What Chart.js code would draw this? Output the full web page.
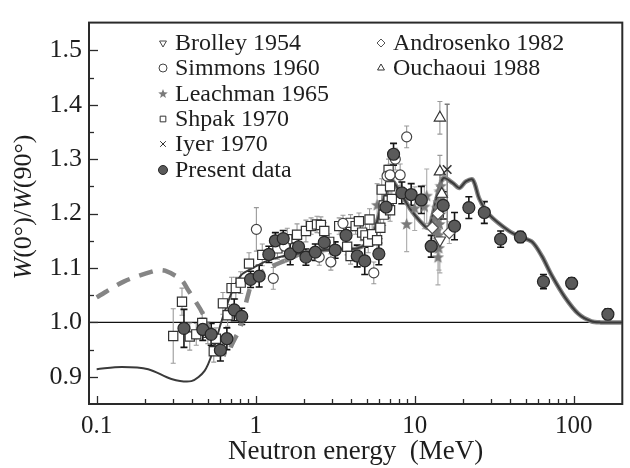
<!DOCTYPE html>
<html>
<head>
<meta charset="utf-8">
<script src="https://cdn.jsdelivr.net/npm/chart.js@4/dist/chart.umd.min.js"></script>
<style>
    html, body { margin: 0; padding: 0; background: #fff; }
    #wrap { width: 630px; height: 468px; }
</style>
</head>
<body>
<div id="wrap"><canvas id="chart" width="630" height="468"></canvas></div>
<script>
// ---- data (energy in MeV, ratio W(0)/W(90)) ----
const presentE   = [0.354, 0.465, 0.525, 0.600, 0.659, 0.733, 0.817, 0.929, 1.052, 1.21, 1.33, 1.49, 1.65, 1.86, 2.07, 2.37, 2.70, 3.16, 3.70, 4.35, 4.85, 5.95, 6.6, 7.36, 8.3, 9.5, 11.0, 12.7, 15.1, 17.8, 21.9, 27.4, 34.7, 46.2, 64.5, 97, 164];
const presentW   = [0.989, 0.987, 0.978, 0.949, 0.970, 1.023, 1.011, 1.079, 1.085, 1.125, 1.150, 1.154, 1.126, 1.139, 1.120, 1.129, 1.147, 1.133, 1.160, 1.122, 1.113, 1.126, 1.212, 1.309, 1.238, 1.235, 1.225, 1.140, 1.215, 1.177, 1.211, 1.202, 1.153, 1.157, 1.075, 1.072, 1.015];
const presentErr = [0.035, 0.02, 0.02, 0.02, 0.02, 0.02, 0.015, 0.015, 0.02, 0.015, 0.015, 0.015, 0.02, 0.015, 0.015, 0.015, 0.015, 0.015, 0.015, 0.02, 0.025, 0.02, 0.02, 0.02, 0.02, 0.02, 0.025, 0.02, 0.025, 0.025, 0.02, 0.02, 0.015, 0.01, 0.013, 0.01, 0.01];

const shpakE   = [0.303, 0.344, 0.385, 0.423, 0.461, 0.500, 0.545, 0.562, 0.622, 0.666, 0.705, 0.750, 0.805, 0.908, 1.10, 1.37, 1.58, 1.82, 2.07, 2.23, 2.43, 2.57, 2.70, 2.90, 3.35, 3.76, 3.95, 3.95, 4.25, 4.46, 4.67, 4.9, 5.1, 5.2, 5.4, 5.8, 6.08, 6.2, 6.38, 6.38, 6.85, 6.85, 7.0, 7.0, 7.18];
const shpakW   = [0.975, 1.038, 0.974, 0.978, 0.999, 0.981, 0.947, 0.970, 1.035, 1.013, 1.063, 1.063, 1.073, 1.108, 1.124, 1.136, 1.153, 1.161, 1.168, 1.177, 1.180, 1.179, 1.168, 1.148, 1.177, 1.139, 1.183, 1.122, 1.177, 1.186, 1.165, 1.160, 1.148, 1.189, 1.162, 1.151, 1.174, 1.244, 1.215, 1.198, 1.224, 1.280, 1.250, 1.206, 1.227];
const shpakErr = [0.05, 0.025, 0.025, 0.02, 0.02, 0.02, 0.02, 0.02, 0.02, 0.02, 0.02, 0.02, 0.02, 0.02, 0.02, 0.02, 0.02, 0.02, 0.02, 0.015, 0.015, 0.015, 0.015, 0.015, 0.015, 0.015, 0.015, 0.015, 0.015, 0.015, 0.015, 0.02, 0.02, 0.02, 0.02, 0.02, 0.02, 0.02, 0.02, 0.02, 0.02, 0.02, 0.02, 0.02, 0.02];

const simmonsE   = [1.01, 1.29, 1.52, 2.51, 2.97, 3.54, 5.53, 6.7, 7.0, 7.55, 8.1, 8.9];
const simmonsW   = [1.171, 1.081, 1.140, 1.120, 1.111, 1.182, 1.091, 1.269, 1.271, 1.300, 1.271, 1.341];
const simmonsErr = [0.04, 0.02, 0.02, 0.015, 0.015, 0.015, 0.02, 0.02, 0.02, 0.02, 0.02, 0.02];

const leachmanE   = [5.8, 8.9, 10.0, 11.5, 11.9, 13.3, 13.5, 13.7, 13.8, 13.9, 14.0, 14.1, 14.1, 14.2, 14.3, 14.4, 14.5, 14.6, 14.7, 14.9];
const leachmanW   = [1.215, 1.180, 1.209, 1.212, 1.232, 1.170, 1.190, 1.168, 1.210, 1.200, 1.119, 1.220, 1.160, 1.136, 1.180, 1.240, 1.198, 1.250, 1.221, 1.230];
const leachmanErr = [0.04, 0.05, 0.04, 0.04, 0.05, 0.04, 0.03, 0.04, 0.03, 0.03, 0.05, 0.03, 0.04, 0.04, 0.03, 0.04, 0.04, 0.03, 0.04, 0.03];

const iyerE = [16.0], iyerW = [1.281], iyerErr = [0.12];
const ouchaouiE = [14.4, 14.4, 14.8], ouchaouiW = [1.376, 1.277, 1.236], ouchaouiErr = [0.03, 0.03, 0.03];
const brolleyE = [14.4], brolleyW = [1.151], brolleyErr = [0.06];
const androsenkoE = [12.9, 14.0, 16.5], androsenkoW = [1.174, 1.200, 1.165], androsenkoErr = [0.02, 0.02, 0.02];

// calculation curves
const thinE = [0.1, 0.144, 0.211, 0.295, 0.394, 0.477, 0.537, 0.605, 0.698, 0.805, 0.975, 1.18, 1.5, 2.0, 2.7, 3.5, 4.35, 5.26, 5.8, 6.38, 7.0, 7.18, 8.1, 9.35, 10.8, 12.2, 13.7, 15.1, 17.4, 19.1, 21, 23.2, 25.5, 29.4, 39.2, 46.3, 54.7, 63, 72.8, 88.1, 106.7, 129, 148, 200];
const thinW = [0.914, 0.918, 0.914, 0.896, 0.892, 0.911, 0.946, 0.999, 1.051, 1.086, 1.101, 1.113, 1.122, 1.128, 1.133, 1.135, 1.136, 1.151, 1.186, 1.227, 1.256, 1.262, 1.239, 1.209, 1.186, 1.174, 1.227, 1.265, 1.256, 1.247, 1.259, 1.262, 1.227, 1.198, 1.168, 1.157, 1.148, 1.122, 1.086, 1.046, 1.016, 1.002, 1.0, 1.0];
const thickE = [0.1, 0.148, 0.233, 0.269, 0.341, 0.375, 0.465, 0.55, 0.605, 0.676, 0.698, 0.805, 0.887, 0.977, 1.2, 1.52, 2.0, 2.7, 3.5, 4.35, 5.26, 5.8, 6.38, 7.0, 7.18, 8.1, 9.35, 10.8, 12.2, 13.7, 15.1, 17.4, 19.1, 21, 23.2, 25.5, 29.4, 39.2, 46.3, 54.7, 63, 72.8, 88.1, 106.7, 129, 148, 200];
const thickW = [1.046, 1.075, 1.095, 1.095, 1.078, 1.06, 1.016, 0.964, 0.946, 0.94, 0.955, 0.993, 1.046, 1.08, 1.10, 1.113, 1.128, 1.133, 1.135, 1.136, 1.151, 1.186, 1.227, 1.256, 1.262, 1.239, 1.209, 1.186, 1.174, 1.227, 1.265, 1.256, 1.247, 1.259, 1.262, 1.227, 1.198, 1.168, 1.157, 1.148, 1.122, 1.086, 1.046, 1.016, 1.002, 1.0, 1.0];
const dashedUpTo = 1.52;

// axes
const xDecades = [0.1, 1, 10, 100];
const xDecadeLabels = ['0.1', '1', '10', '100'];
const yLabels = ['0.9', '1.0', '1.1', '1.2', '1.3', '1.4', '1.5'];

const SERIF = '"Liberation Serif", "Times New Roman", serif';
const INK = '#1e1e1e';

const pts = (xs, ys) => xs.map((v, i) => ({ x: v, y: ys[i] }));

function makeStar(size, color) {
    const c = document.createElement('canvas');
    c.width = size; c.height = size;
    const g = c.getContext('2d');
    const R = size / 2, r = R * 0.42;
    g.beginPath();
    for (let i = 0; i < 10; i++) {
        const a = -Math.PI / 2 + i * Math.PI / 5;
        const rr = i % 2 ? r : R;
        g.lineTo(R + rr * Math.cos(a), R + rr * Math.sin(a));
    }
    g.closePath();
    g.fillStyle = color;
    g.fill();
    return c;
}
const starBig = makeStar(13, '#7a7a7a');
const starSmall = makeStar(10, '#7a7a7a');

// x ticks: every 1..9 x decade, labels only at decades
const xTicks = [];
xDecades.forEach(d => { for (let k = 1; k <= 9; k++) { const v = +(d * k).toPrecision(3); if (v < 200) xTicks.push(v); } });
const yTicks = [];
for (let k = 0; k <= 12; k++) yTicks.push(Math.round((0.9 + k * 0.05) * 100) / 100);

function markerSet(label, xs, ys, errs, style) {
    return Object.assign({
        label,
        data: pts(xs, ys),
        errors: errs,
        showLine: false,
        pointBorderWidth: 1.2,
        pointHoverRadius: 0
    }, style);
}

const datasets = [
    markerSet('Present data', presentE, presentW, presentErr, {
        order: 0, pointStyle: 'circle', pointRadius: 6,
        backgroundColor: '#5a5a5a', borderColor: '#262626',
        errColor: '#151515', errWidth: 1.6, errCap: 3.5
    }),
    markerSet('Iyer 1970', iyerE, iyerW, iyerErr, {
        order: 1, pointStyle: 'crossRot', pointRadius: 6, pointBorderWidth: 1.6,
        backgroundColor: '#fff', borderColor: '#333',
        errColor: '#7a7a7a', errWidth: 1.4, errCap: 2.5
    }),
    markerSet('Ouchaoui 1988', ouchaouiE, ouchaouiW, ouchaouiErr, {
        order: 2, pointStyle: 'triangle', pointRadius: 6.5,
        backgroundColor: '#fff', borderColor: '#333',
        errColor: '#999', errWidth: 1.1, errCap: 2.5
    }),
    markerSet('Brolley 1954', brolleyE, brolleyW, brolleyErr, {
        order: 2, pointStyle: 'triangle', rotation: 180, pointRadius: 6.5,
        backgroundColor: '#fff', borderColor: '#444',
        errColor: '#aaa', errWidth: 1.1, errCap: 2.5
    }),
    markerSet('Androsenko 1982', androsenkoE, androsenkoW, androsenkoErr, {
        order: 2, pointStyle: 'rectRot', pointRadius: 6,
        backgroundColor: '#fff', borderColor: '#555',
        errColor: '#aaa', errWidth: 1.1, errCap: 2.5
    }),
    markerSet('Simmons 1960', simmonsE, simmonsW, simmonsErr, {
        order: 3, pointStyle: 'circle', pointRadius: 5,
        backgroundColor: '#fff', borderColor: '#444',
        errColor: '#999', errWidth: 1.1, errCap: 2.5
    }),
    markerSet('Shpak 1970', shpakE, shpakW, shpakErr, {
        order: 4, pointStyle: 'rect', pointRadius: 6.5,
        backgroundColor: '#fff', borderColor: '#333',
        errColor: '#9a9a9a', errWidth: 1.1, errCap: 2.5
    }),
    markerSet('Leachman 1965', leachmanE, leachmanW, leachmanErr, {
        order: 5, pointStyle: starBig, pointRadius: 6,
        backgroundColor: '#7a7a7a', borderColor: '#7a7a7a',
        errColor: '#aaa', errWidth: 1.1, errCap: 2.5
    }),
    {
        label: 'calc thin', order: 8, data: pts(thinE, thinW), showLine: true,
        borderColor: '#3a3a3a', borderWidth: 2, pointRadius: 0, tension: 0.3
    },
    {
        label: 'calc thick', order: 9, data: pts(thickE, thickW), showLine: true,
        borderColor: '#858585', borderWidth: 4.5, pointRadius: 0, tension: 0.3,
        segment: { borderDash: c => (c.p1.parsed.x <= dashedUpTo ? [14, 10] : undefined) }
    }
];

// error bars, reference line at 1.0, frame and inward ticks
const decorations = {
    id: 'decorations',
    beforeDatasetsDraw(chart) {
        const { ctx, chartArea: a, scales: { x, y } } = chart;
        ctx.save();
        ctx.beginPath();
        ctx.rect(a.left, a.top, a.right - a.left, a.bottom - a.top);
        ctx.clip();
        // y = 1 line
        const y1 = y.getPixelForValue(1.0);
        ctx.strokeStyle = '#111';
        ctx.lineWidth = 1.4;
        ctx.beginPath(); ctx.moveTo(a.left, y1); ctx.lineTo(a.right, y1); ctx.stroke();
        // error bars (heaviest sets last)
        chart.data.datasets.slice().reverse().forEach(ds => {
            if (!ds.errors) return;
            ctx.strokeStyle = ds.errColor;
            ctx.lineWidth = ds.errWidth;
            ds.data.forEach((p, i) => {
                const e = ds.errors[i];
                const px = x.getPixelForValue(p.x);
                const top = y.getPixelForValue(p.y + e);
                const bot = y.getPixelForValue(p.y - e);
                const c = ds.errCap;
                ctx.beginPath();
                ctx.moveTo(px, top); ctx.lineTo(px, bot);
                ctx.moveTo(px - c, top); ctx.lineTo(px + c, top);
                ctx.moveTo(px - c, bot); ctx.lineTo(px + c, bot);
                ctx.stroke();
            });
        });
        ctx.restore();
    },
    afterDraw(chart) {
        const { ctx, chartArea: a, scales: { x, y } } = chart;
        ctx.save();
        ctx.strokeStyle = '#2a2a2a';
        ctx.lineWidth = 1.3;
        x.ticks.forEach(t => {
            const px = Math.round(x.getPixelForValue(t.value)) + 0.5;
            const len = xDecades.includes(t.value) ? 8 : 5;
            ctx.beginPath(); ctx.moveTo(px, a.bottom); ctx.lineTo(px, a.bottom - len); ctx.stroke();
        });
        y.ticks.forEach(t => {
            const py = Math.round(y.getPixelForValue(t.value)) + 0.5;
            const len = Math.round(t.value * 100) % 10 === 0 ? 9 : 5;
            ctx.beginPath(); ctx.moveTo(a.left, py); ctx.lineTo(a.left + len, py); ctx.stroke();
        });
        // frame
        ctx.lineWidth = 2;
        ctx.strokeStyle = '#2a2a2a';
        ctx.strokeRect(a.left, a.top, a.right - a.left, a.bottom - a.top);
        ctx.restore();
    }
};

// y title with italic W, and the two column legend
const textParts = {
    id: 'textParts',
    afterDraw(chart) {
        const { ctx } = chart;
        ctx.save();
        ctx.fillStyle = INK;
        ctx.textBaseline = 'middle';
        // y axis title
        const parts = [['W', 'italic'], ['(0°)/', 'normal'], ['W', 'italic'], ['(90°)', 'normal']];
        const fontOf = s => `${s} 26px ${SERIF}`;
        let total = 0;
        parts.forEach(p => { ctx.font = fontOf(p[1]); total += ctx.measureText(p[0]).width; });
        ctx.translate(24, 207);
        ctx.rotate(-Math.PI / 2);
        let cx = -total / 2;
        parts.forEach(p => {
            ctx.font = fontOf(p[1]);
            ctx.fillText(p[0], cx, 0);
            cx += ctx.measureText(p[0]).width;
        });
        ctx.setTransform(1, 0, 0, 1, 0, 0);

        // legend
        const entries = [
            ['Brolley 1954', 163, 43], ['Simmons 1960', 163, 68], ['Leachman 1965', 163, 94],
            ['Shpak 1970', 163, 119], ['Iyer 1970', 163, 144], ['Present data', 163, 170],
            ['Androsenko 1982', 381, 43], ['Ouchaoui 1988', 381, 68]
        ];
        entries.forEach(([name, mx, my]) => {
            const ds = chart.data.datasets.find(d => d.label === name);
            const style = ds.pointStyle === starBig ? starSmall : ds.pointStyle;
            ctx.fillStyle = ds.backgroundColor;
            ctx.strokeStyle = ds.borderColor;
            ctx.lineWidth = 1;
            Chart.helpers.drawPoint(ctx, {
                pointStyle: style, radius: name === 'Present data' ? 4.5 : 4,
                rotation: ds.rotation || 0, borderWidth: 1
            }, mx, my);
            ctx.fillStyle = INK;
            ctx.font = `24px ${SERIF}`;
            ctx.textBaseline = 'middle';
            ctx.fillText(name, mx + 12, my + 1);
        });
        ctx.restore();
    }
};

Chart.defaults.font.family = SERIF;
Chart.defaults.color = INK;

new Chart(document.getElementById('chart'), {
    type: 'scatter',
    data: { datasets },
    options: {
        responsive: false,
        animation: false,
        devicePixelRatio: 1,
        layout: { padding: { top: 5, right: 2, left: 0, bottom: 0 } },
        plugins: { legend: { display: false }, tooltip: { enabled: false } },
        scales: {
            x: {
                type: 'logarithmic',
                min: 0.0895,
                max: 202,
                afterBuildTicks: s => { s.ticks = xTicks.map(v => ({ value: v })); },
                afterFit: s => { s.height = 64; },
                grid: { display: false, drawTicks: false },
                border: { display: false },
                ticks: {
                    autoSkip: false, maxRotation: 0, padding: 7,
                    font: { size: 25 }, color: INK,
                    callback: v => { const i = xDecades.indexOf(v); return i >= 0 ? xDecadeLabels[i] : ''; }
                },
                title: {
                    display: true, text: 'Neutron energy  (MeV)',
                    font: { size: 27 }, color: INK, padding: { top: 0, bottom: 0 }
                }
            },
            y: {
                min: 0.85,
                max: 1.551,
                afterBuildTicks: s => { s.ticks = yTicks.map(v => ({ value: v })); },
                afterFit: s => { s.width = 89; },
                grid: { display: false, drawTicks: false },
                border: { display: false },
                ticks: {
                    autoSkip: false, padding: 7,
                    font: { size: 26 }, color: INK,
                    callback: v => (Math.round(v * 100) % 10 === 0 ? yLabels[Math.round((v - 0.9) * 10)] : '')
                }
            }
        }
    },
    plugins: [decorations, textParts]
});
</script>
</body>
</html>
